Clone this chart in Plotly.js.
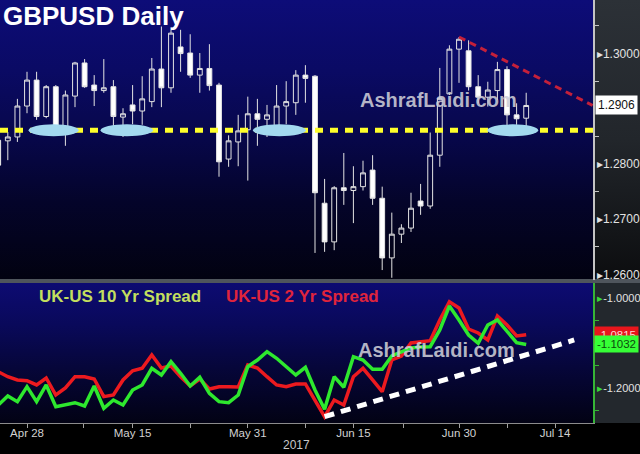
<!DOCTYPE html>
<html>
<head>
<meta charset="utf-8">
<script src="https://cdn.plot.ly/plotly-3.0.1.min.js"></script>
<style>
  html, body { margin:0; padding:0; background:#000; }
  #wrap { position:relative; width:640px; height:454px; background:#000; overflow:hidden; }
  .bg { position:absolute; }
  #bgTop { left:0; top:0; width:593px; height:280px;
    background:linear-gradient(to bottom, #0d0c78 0%, #0a0a64 25%, #070749 50%, #04042a 72%, #020210 100%); }
  #bgTopR { left:593px; top:0; width:47px; height:280px;
    background:linear-gradient(to bottom, #2c3137 0%, #22262b 50%, #0c0d0f 100%); }
  #sep { left:0; top:279px; width:640px; height:4px; background:#4f555c; }
  #bgBot { left:0; top:283px; width:593px; height:140px;
    background:linear-gradient(to bottom, #0d0b72 0%, #09095a 30%, #06063a 60%, #020214 100%); }
  #bgBotR { left:593px; top:283px; width:47px; height:140px; background:#23282d; }
  #chart { position:absolute; left:0; top:0; width:640px; height:454px; }
</style>
</head>
<body>
<div id="wrap">
  <div class="bg" id="bgTop"></div>
  <div class="bg" id="bgTopR"></div>
  <div class="bg" id="sep"></div>
  <div class="bg" id="bgBot"></div>
  <div class="bg" id="bgBotR"></div>
  <div id="chart"></div>
</div>
<script>
// ---------- data ----------
const dates = [
  '2017-04-25','2017-04-26','2017-04-27','2017-04-28',
  '2017-05-01','2017-05-02','2017-05-03','2017-05-04','2017-05-05',
  '2017-05-08','2017-05-09','2017-05-10','2017-05-11','2017-05-12',
  '2017-05-15','2017-05-16','2017-05-17','2017-05-18','2017-05-19',
  '2017-05-22','2017-05-23','2017-05-24','2017-05-25','2017-05-26',
  '2017-05-29','2017-05-30','2017-05-31','2017-06-01','2017-06-02',
  '2017-06-05','2017-06-06','2017-06-07','2017-06-08','2017-06-09',
  '2017-06-12','2017-06-13','2017-06-14','2017-06-15','2017-06-16',
  '2017-06-19','2017-06-20','2017-06-21','2017-06-22','2017-06-23',
  '2017-06-26','2017-06-27','2017-06-28','2017-06-29','2017-06-30',
  '2017-07-03','2017-07-04','2017-07-05','2017-07-06','2017-07-07',
  '2017-07-10','2017-07-11'
];
const openP = [
  1.2843,1.2842,1.2849,1.2905,
  1.2952,1.2886,1.2940,1.2868,1.2923,
  1.2983,1.2943,1.2933,1.2940,1.2885,
  1.2907,1.2896,1.2913,1.2972,1.2938,
  1.3012,1.3001,1.2961,1.2973,1.2943,
  1.2809,1.2840,1.2862,1.2891,1.2881,
  1.2868,1.2905,1.2911,1.2961,1.2959,
  1.2729,1.2659,1.2757,1.2752,1.2759,
  1.2789,1.2738,1.2630,1.2673,1.2684,
  1.2733,1.2724,1.2816,1.2927,1.3008,
  1.3005,1.2940,1.2921,1.2933,1.2971,
  1.2889,1.2883
];
const highP = [
  1.2856,1.2858,1.2918,1.2967,
  1.2967,1.2943,1.2943,1.2933,1.2985,
  1.2990,1.2961,1.2990,1.2952,1.2901,
  1.2943,1.2959,1.2992,1.3049,1.3043,
  1.3043,1.3035,1.3001,1.3017,1.2947,
  1.2852,1.2889,1.2922,1.2918,1.2907,
  1.2943,1.2950,1.2970,1.2979,1.2961,
  1.2773,1.2760,1.2820,1.2796,1.2806,
  1.2816,1.2759,1.2712,1.2691,1.2748,
  1.2764,1.2857,1.2974,1.3015,1.3030,
  1.3024,1.2961,1.2949,1.2985,1.2977,
  1.2910,1.2929
];
const lowP = [
  1.2789,1.2807,1.2840,1.2892,
  1.2880,1.2883,1.2862,1.2833,1.2903,
  1.2938,1.2905,1.2929,1.2856,1.2849,
  1.2872,1.2871,1.2903,1.2903,1.2929,
  1.2967,1.2956,1.2929,1.2933,1.2777,
  1.2795,1.2796,1.2770,1.2833,1.2849,
  1.2865,1.2872,1.2889,1.2911,1.2639,
  1.2641,1.2644,1.2726,1.2693,1.2752,
  1.2726,1.2608,1.2594,1.2657,1.2677,
  1.2708,1.2719,1.2795,1.2925,1.2947,
  1.2933,1.2910,1.2904,1.2916,1.2869,
  1.2871,1.2867
];
const closeP = [
  1.2798,1.2849,1.2905,1.2952,
  1.2886,1.2940,1.2867,1.2925,1.2983,
  1.2940,1.2933,1.2938,1.2886,1.2891,
  1.2896,1.2918,1.2972,1.2938,1.3037,
  1.3000,1.2961,1.2973,1.2942,1.2804,
  1.2842,1.2860,1.2891,1.2881,1.2889,
  1.2905,1.2913,1.2961,1.2955,1.2748,
  1.2659,1.2757,1.2752,1.2759,1.2784,
  1.2738,1.2630,1.2673,1.2684,1.2720,
  1.2724,1.2816,1.2919,1.3008,1.3026,
  1.2940,1.2921,1.2934,1.2971,1.2889,
  1.2882,1.2906
];
const spread10y = [
  -1.2378,-1.2178,-1.2304,-1.1971,
  -1.2304,-1.1933,-1.2416,-1.2378,-1.2327,
  -1.2400,-1.1956,-1.2451,-1.2267,-1.2378,
  -1.2044,-1.1933,-1.1562,-1.1711,-1.1416,
  -1.1673,-1.1956,-1.1762,-1.2118,-1.2304,
  -1.2327,-1.2156,-1.1527,-1.1378,-1.1193,
  -1.1340,-1.1527,-1.1711,-1.1540,-1.2044,
  -1.2473,-1.1749,-1.1984,-1.1304,-1.1378,
  -1.1584,-1.1584,-1.1289,-1.1200,-1.1111,
  -1.1089,-1.1082,-1.0711,-1.0178,-1.0489,
  -1.0822,-1.1007,-1.0600,-1.0489,-1.0749,
  -1.0993,-1.1032
];
const spread2y = [
  -1.1638,-1.1749,-1.1822,-1.1838,
  -1.1933,-1.1778,-1.2156,-1.2000,-1.1749,
  -1.1749,-1.1800,-1.2193,-1.2156,-1.1822,
  -1.1616,-1.1562,-1.1267,-1.1556,-1.1511,
  -1.1749,-1.1956,-1.1800,-1.2022,-1.1971,
  -1.1971,-1.1978,-1.1489,-1.1556,-1.1749,
  -1.1933,-1.1971,-1.1911,-1.1911,-1.2289,
  -1.2638,-1.2267,-1.2378,-1.1749,-1.1562,
  -1.1822,-1.2082,-1.1378,-1.1289,-1.1000,
  -1.0971,-1.0949,-1.0489,-1.0082,-1.0222,
  -1.0689,-1.0778,-1.0933,-1.0400,-1.0600,
  -1.0844,-1.0815
];

// axis ticks & labels
const xTickVals = ['2017-04-28','2017-05-15','2017-05-31','2017-06-15','2017-06-30','2017-07-14'];
const xTickText = ['Apr 28','May 15','May 31','Jun 15','Jun 30','Jul 14'];
const xMinorVals = ['2017-05-05 21:00','2017-05-23','2017-06-08','2017-06-22 04:00','2017-07-07'];
const xRange = ['2017-04-25 04:30','2017-07-19 23:00'];
const pxTickVals = [1.26,1.27,1.28,1.30];
const pxMinorVals = [1.265,1.275,1.285,1.295,1.305];
const pxRange = [1.2590,1.3097];
const spTickVals = [-1.2,-1.0];
const spMinorVals = [-1.25,-1.15,-1.05];
const spRange = [-1.2778,-0.9667];

// annotation values
const supportLevel = 1.2861;
const zoneHalf = 0.00108;
const zoneStart = ['2017-04-28 04:00','2017-05-09 16:00','2017-05-31 13:00','2017-07-04 23:00'];
const zoneEnd   = ['2017-05-05 09:00','2017-05-17 03:00','2017-06-08 01:00','2017-07-12 06:00'];
const resistDates = ['2017-06-30','2017-07-19 22:00'];
const resistVals  = [1.3030, 1.2906];
const trendDates  = ['2017-06-12','2017-07-18'];
const trendVals   = [-1.2638, -1.0933];

const titleText = 'GBPUSD Daily';
const watermark = 'AshrafLaidi.com';
const label10 = 'UK-US 10 Yr Spread';
const label2 = 'UK-US 2 Yr Spread';
const yearLabel = '2017';

// ---------- traces ----------
const FONT = 'Liberation Sans, Arial, sans-serif';
const traces = [
  {
    type:'candlestick', x:dates, open:openP, high:highP, low:lowP, close:closeP,
    xaxis:'x', yaxis:'y', whiskerwidth:0, hoverinfo:'skip',
    increasing:{line:{color:'#e4e4e4', width:1}, fillcolor:'rgba(0,0,0,0)'},
    decreasing:{line:{color:'#e4e4e4', width:1}, fillcolor:'#ffffff'}
  },
  {
    type:'scatter', mode:'lines', x:dates, y:spread2y, xaxis:'x', yaxis:'y2',
    line:{color:'#ec1a1f', width:3.5}, hoverinfo:'skip'
  },
  {
    type:'scatter', mode:'lines', x:dates, y:spread10y, xaxis:'x', yaxis:'y2',
    line:{color:'#2ee82e', width:3.5}, hoverinfo:'skip'
  }
];

// ---------- shapes ----------
const shapes = [
  {type:'line', xref:'paper', x0:0, x1:1, yref:'y', y0:supportLevel, y1:supportLevel,
   line:{color:'#ffff2a', width:5, dash:'8px,7px'}, layer:'above'}
];
for (let i = 0; i < zoneStart.length; i++) {
  shapes.push({type:'circle', xref:'x', yref:'y', x0:zoneStart[i], x1:zoneEnd[i],
    y0:supportLevel - zoneHalf, y1:supportLevel + zoneHalf,
    fillcolor:'#a3d9ef', line:{width:0}, layer:'above'});
}
shapes.push({type:'line', xref:'x', yref:'y', x0:resistDates[0], x1:resistDates[1],
  y0:resistVals[0], y1:resistVals[1], line:{color:'#c4203a', width:3, dash:'7px,5px'}, layer:'above'});
shapes.push({type:'line', xref:'x', yref:'y2', x0:trendDates[0], x1:trendDates[1],
  y0:trendVals[0], y1:trendVals[1], line:{color:'#ffffff', width:5, dash:'10px,7px'}, layer:'above'});

// ---------- annotations ----------
const lastClose = closeP[closeP.length - 1];
const last2 = spread2y[spread2y.length - 1];
const last10 = spread10y[spread10y.length - 1];
const annotations = [
  {text:titleText, xref:'paper', yref:'paper', x:0, y:1, xanchor:'left', yanchor:'top',
   xshift:1, yshift:1, showarrow:false, font:{family:FONT, size:26, color:'#ffffff', weight:'bold'}},
  {text:watermark, xref:'paper', yref:'paper', x:438/593, y:(423-100)/423, xanchor:'center', yanchor:'middle',
   showarrow:false, font:{family:FONT, size:20, color:'rgba(205,205,215,0.88)', weight:'bold'}},
  {text:watermark, xref:'paper', yref:'paper', x:437/593, y:(423-350)/423, xanchor:'center', yanchor:'middle',
   showarrow:false, font:{family:FONT, size:20, color:'rgba(205,205,215,0.88)', weight:'bold'}},
  {text:label10, xref:'paper', yref:'paper', x:37/593, y:(423-296)/423, xanchor:'left', yanchor:'middle',
   showarrow:false, font:{family:FONT, size:17, color:'#c3df5e', weight:'bold'}},
  {text:label2, xref:'paper', yref:'paper', x:224/593, y:(423-296)/423, xanchor:'left', yanchor:'middle',
   showarrow:false, font:{family:FONT, size:17, color:'#e0243c', weight:'bold'}},
  {text:yearLabel, xref:'paper', yref:'paper', x:296/593, y:(423-445)/423, xanchor:'center', yanchor:'middle',
   showarrow:false, font:{family:FONT, size:12, color:'#c8c8c8'}},
  {text:lastClose.toFixed(4), xref:'paper', yref:'y', x:1, y:lastClose, xanchor:'left', yanchor:'middle',
   xshift:2, showarrow:false, bgcolor:'#ffffff', borderpad:2,
   font:{family:FONT, size:12, color:'#111111'}},
  {text:last2.toFixed(4), xref:'paper', yref:'y2', x:1, y:last2, xanchor:'left', yanchor:'middle',
   xshift:1, showarrow:false, bgcolor:'#e8161c', borderpad:2,
   font:{family:FONT, size:11.5, color:'#ffd6d6'}},
  {text:last10.toFixed(4), xref:'paper', yref:'y2', x:1, y:last10, xanchor:'left', yanchor:'middle',
   xshift:1, showarrow:false, bgcolor:'#36ff36', borderpad:2,
   font:{family:FONT, size:11.5, color:'#0d4a0d'}}
];

// ---------- layout ----------
const layout = {
  width:640, height:454,
  margin:{l:0, r:47, t:0, b:31, pad:0},
  paper_bgcolor:'rgba(0,0,0,0)', plot_bgcolor:'rgba(0,0,0,0)',
  showlegend:false, dragmode:false, hovermode:false,
  boxgap:0.28,
  xaxis:{
    type:'date', range:xRange, rangebreaks:[{bounds:['sat','mon']}],
    rangeslider:{visible:false}, anchor:'y2', fixedrange:true,
    tickmode:'array', tickvals:xTickVals, ticktext:xTickText,
    ticks:'outside', ticklen:4, tickwidth:1, tickcolor:'#a0a0a0',
    showline:true, linecolor:'#8c8c8c', linewidth:1, mirror:false,
    showgrid:false, zeroline:false, ticklabelstandoff:-5,
    tickfont:{family:FONT, size:11.5, color:'#d2d2d2'},
    minor:{tickmode:'array', tickvals:xMinorVals, ticks:'outside', ticklen:4, tickwidth:1, tickcolor:'#a0a0a0', showgrid:false}
  },
  yaxis:{
    domain:[(423-280)/423, 1], range:pxRange, side:'right', anchor:'x', fixedrange:true,
    showgrid:false, zeroline:false, showline:true, linecolor:'#c4c4c4', linewidth:1.5,
    tickmode:'array', tickvals:pxTickVals, ticktext:pxTickVals.map(v => '\u25B8' + v.toFixed(4)),
    ticks:'', tickfont:{family:FONT, size:12, color:'#e2e2e2'},
    minor:{tickmode:'array', tickvals:pxMinorVals, ticks:'outside', ticklen:4, tickwidth:1, tickcolor:'#c4c4c4', showgrid:false}
  },
  yaxis2:{
    domain:[0, (423-283)/423], range:spRange, side:'right', anchor:'x', fixedrange:true,
    showgrid:false, zeroline:false, showline:true, linecolor:'#36b536', linewidth:2,
    tickmode:'array', tickvals:spTickVals,
    ticktext:spTickVals.map(v => '<span style="color:#3ad83a">\u25B8</span>' + v.toFixed(4)),
    ticks:'', tickfont:{family:FONT, size:11, color:'#e2e2e2'},
    minor:{tickmode:'array', tickvals:spMinorVals, ticks:'outside', ticklen:4, tickwidth:1, tickcolor:'#36b536', showgrid:false}
  },
  shapes:shapes,
  annotations:annotations
};

Plotly.newPlot('chart', traces, layout, {displayModeBar:false, staticPlot:true});
</script>
</body>
</html>
